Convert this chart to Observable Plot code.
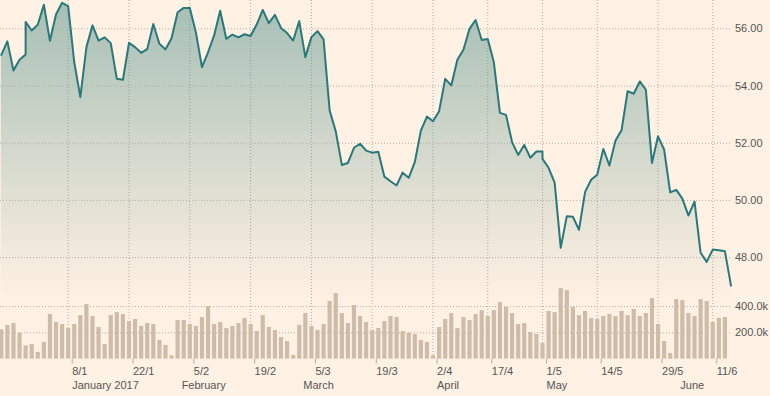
<!DOCTYPE html>
<html>
<head>
<meta charset="utf-8">
<script src="https://cdn.jsdelivr.net/npm/d3@7"></script>
<script src="https://cdn.jsdelivr.net/npm/@observablehq/plot@0.6"></script>
<style>
  html, body { margin: 0; padding: 0; background: #fff1e3; }
  #chart { position: relative; width: 770px; height: 396px; background: #fff1e3; overflow: hidden; }
  #chart > svg { position: absolute; left: 0; top: 0; }
</style>
</head>
<body>
<div id="chart"></div>
<script>
// ---- Data (trading-day index based) ----
// Closing prices per trading day; a pair marks a day with two quotes (vertical jump)
const price = [
  55.09, 55.56, 54.54, 54.92, [55.10, 56.24], 55.94, 56.14, 56.84, 55.58, 56.50,
  56.91, 56.79, 54.83, 53.61, 55.36, 56.12, 55.59, 55.70, 55.50, 54.25,
  54.22, 55.51, 55.36, 55.16, 55.29, 56.17, 55.48, 55.28, 55.67, 56.58,
  56.73, 56.73, 55.88, 54.66, 55.18, 55.77, 56.63, 55.65, 55.80, 55.70,
  55.81, 55.75, 56.15, 56.66, 56.20, 56.49, 56.03, 55.85, 55.59, 56.27,
  55.01, 55.71, 55.92, 55.63, 53.14, 52.42, 51.24, 51.31, 51.84, 51.98,
  51.74, 51.67, 51.70, 50.83, 50.67, 50.52, 50.97, 50.79, 51.34, 52.44,
  52.93, 52.77, 53.12, 54.25, 54.02, 54.92, 55.27, 56.00, 56.31, 55.61,
  55.64, 54.83, 53.06, 52.99, 52.04, 51.59, 51.94, 51.49, 51.71, [51.71, 51.45],
  51.14, 50.62, 48.34, 49.45, 49.43, 48.97, 50.29, 50.72, 50.90, 51.80,
  51.22, 52.09, 52.45, 53.82, 53.73, 54.16, 53.87, 51.31, 52.24, 51.78,
  50.28, 50.37, 50.06, 49.47, 49.96, 48.17, 47.85, 48.28, 48.26, 48.22,
  47.02
];
// Daily volume, thousands of shares
const volume = [
  223, 256, 271, 197, 101, 111, 51, 127, 339, 278,
  263, 233, 263, 331, 415, 324, 240, 111, 331, 354,
  339, 286, 301, 248, 271, 263, 142, 104, 25, 293,
  293, 263, 248, 316, 400, 263, 278, 233, 248, 271,
  309, 263, 210, 331, 240, 218, 164, 134, 28, 256,
  347, 248, 218, 263, 438, 498, 347, 271, 407, 324,
  278, 218, 233, 286, 324, 316, 210, 197, 187, 142,
  127, 25, 240, 301, 347, 233, 316, 293, 339, 369,
  324, 369, 430, 392, 347, 263, 271, 202, 187, 119,
  362, 354, 536, 521, 392, 331, 362, 309, 301, 324,
  339, 324, 362, 331, 377, 324, 347, 460, 263, 134,
  43, 453, 445, 347, 324, 453, 438, 278, 309, 316
];
const tickDays   = [11, 21, 31, 41, 51, 61, 71, 80, 89, 98, 108, 117];
const tickLabels = ["8/1", "22/1", "5/2", "19/2", "5/3", "19/3", "2/4", "17/4", "1/5", "14/5", "29/5", "11/6"];
const monthDays   = [11, 29, 49, 71, 89, 111];
const monthLabels = ["January 2017", "February", "March", "April", "May", "June"];
const priceTicks  = [48, 50, 52, 54, 56];
const volumeTicks = [200, 400];

// ---- Build tables ----
const pricePts = price.flatMap((p, i) => (Array.isArray(p) ? p : [p]).map(v => ({day: i, value: v})));
const volPts = volume.map((v, i) => ({day: i, volume: v}));
const tickMap = new Map(tickDays.map((d, i) => [d, tickLabels[i]]));
const monthMap = new Map(monthDays.map((d, i) => [d, monthLabels[i]]));

// ---- Layout ----
const W = 770;
const xDomain = [-0.13, price.length - 1];
const marginRight = 39.5;
const priceDomain = [46.5, 56.99];
const font = "'Liberation Sans', Arial, sans-serif";
const textColor = "#555";
const gridColor = "#b2aba3";
const style = {background: "transparent", fontFamily: font, fontSize: "11px", color: textColor, overflow: "visible"};

// Volume panel (bottom layer): bars, vertical grid, x axis
const volPlot = Plot.plot({
  width: W, height: 396,
  marginLeft: 0, marginRight, marginTop: 0, marginBottom: 37.4,
  style,
  x: {domain: xDomain},
  y: {domain: [0, 2727]},
  marks: [
    Plot.gridX(tickDays, {stroke: gridColor, strokeOpacity: 1, strokeDasharray: "1,2"}),
    Plot.gridY(volumeTicks, {stroke: gridColor, strokeOpacity: 1, strokeDasharray: "1,2"}),
    Plot.ruleX(volPts, {x: "day", y1: 0, y2: "volume", stroke: "#cdbca9", strokeWidth: 4.2}),
    Plot.axisX(tickDays, {tickFormat: d => tickMap.get(d), tickSize: 5, tickPadding: 2.6, textAnchor: "start", dx: 4, stroke: gridColor, label: null, fill: textColor}),
    Plot.axisX(monthDays, {tickFormat: d => monthMap.get(d), tickSize: 0, tickPadding: 22, textAnchor: "start", dx: 4, label: null, fill: textColor}),
    Plot.axisY(volumeTicks, {anchor: "right", tickSize: 0, tickPadding: 4, tickFormat: d => d.toFixed(1) + "k", label: null, fill: textColor})
  ]
});

// Price panel (top layer): gradient area, grid, line, right axis
const pricePlot = Plot.plot({
  width: W, height: 300,
  marginLeft: 0, marginRight, marginTop: 0, marginBottom: 0,
  style,
  x: {domain: xDomain, axis: null},
  y: {domain: priceDomain},
  marks: [
    Plot.areaY(pricePts, {x: "day", y1: priceDomain[0], y2: "value", fill: "url(#priceGrad)", curve: "linear"}),
    Plot.gridY(priceTicks, {stroke: gridColor, strokeOpacity: 1, strokeDasharray: "1,2"}),
    Plot.line(pricePts, {x: "day", y: "value", stroke: "#28797b", strokeWidth: 2, strokeLinejoin: "round"}),
    Plot.axisY(priceTicks, {anchor: "right", tickSize: 0, tickPadding: 4, tickFormat: d3.format(".2f"), label: null, fill: textColor})
  ]
});

// Gradient definition
const ns = "http://www.w3.org/2000/svg";
const defs = document.createElementNS(ns, "defs");
const lg = document.createElementNS(ns, "linearGradient");
lg.setAttribute("id", "priceGrad");
lg.setAttribute("gradientUnits", "userSpaceOnUse");
lg.setAttribute("x1", 0); lg.setAttribute("y1", 0);
lg.setAttribute("x2", 0); lg.setAttribute("y2", 300);
[[0, 0.5], [0.45, 0.27], [1, 0]].forEach(([o, a]) => {
  const s = document.createElementNS(ns, "stop");
  s.setAttribute("offset", o);
  s.setAttribute("stop-color", "#4d8c87");
  s.setAttribute("stop-opacity", a);
  lg.appendChild(s);
});
defs.appendChild(lg);
pricePlot.insertBefore(defs, pricePlot.firstChild);

const chart = document.getElementById("chart");
chart.appendChild(volPlot);
chart.appendChild(pricePlot);
</script>
</body>
</html>
